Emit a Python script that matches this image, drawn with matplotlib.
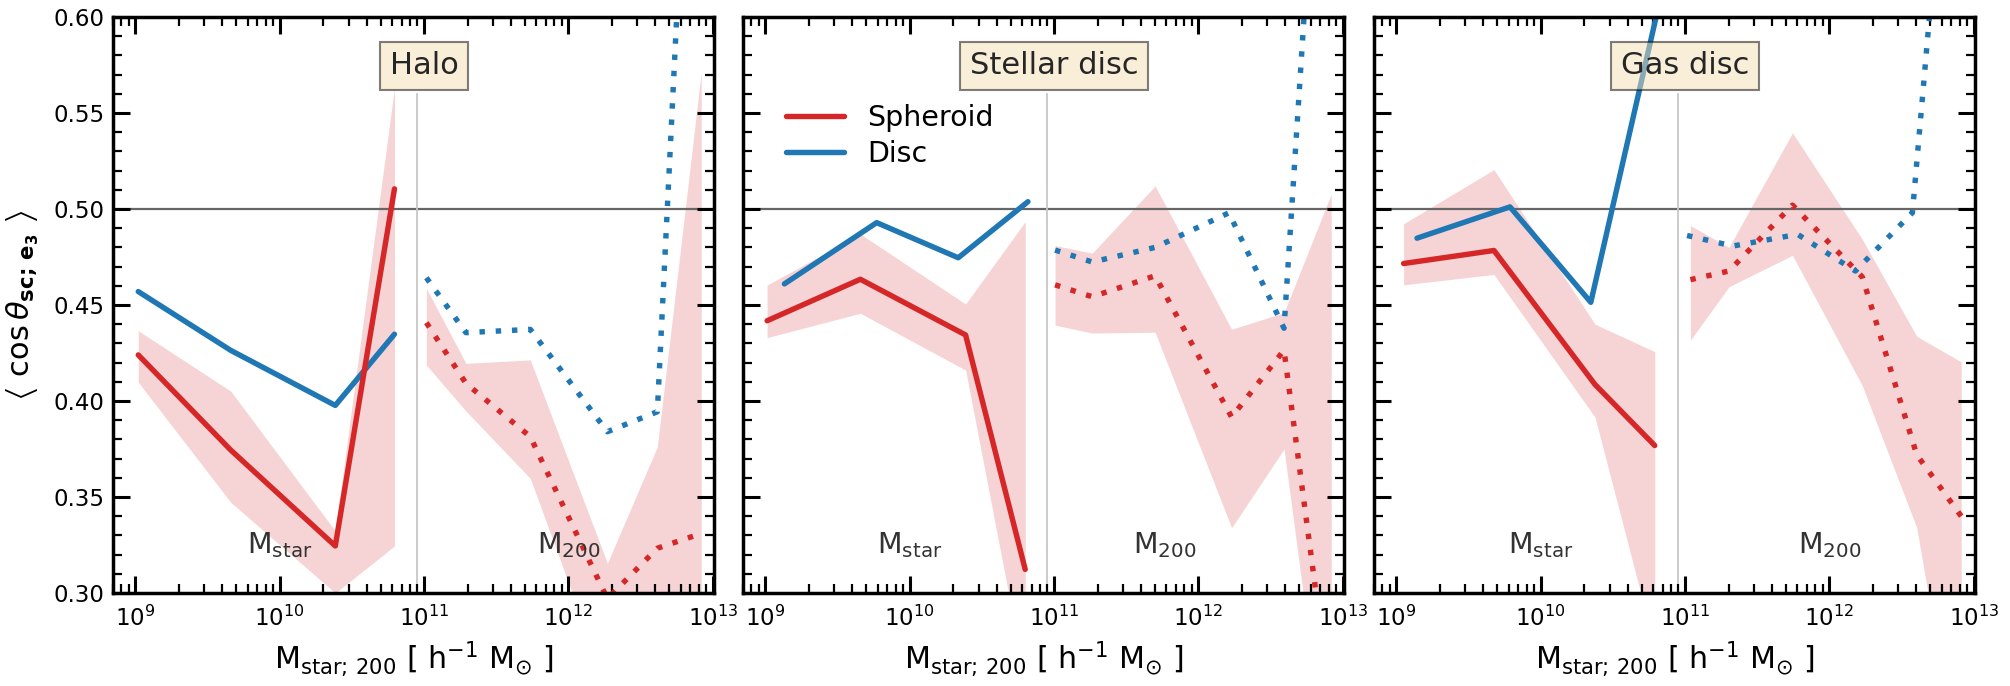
import numpy as np
import matplotlib
matplotlib.use("Agg")
import matplotlib.pyplot as plt
from matplotlib.ticker import MultipleLocator, LogLocator, NullFormatter

# ---------------- data (x given as log10 of mass) ----------------
panel_titles = ["Halo", "Stellar disc", "Gas disc"]

# Halo panel
halo_ms_sph_lx = [9.02, 9.66, 10.385, 10.795]
halo_ms_sph = [0.424, 0.3745, 0.3245, 0.5105]
halo_ms_disc_lx = [9.02, 9.66, 10.385, 10.795]
halo_ms_disc = [0.457, 0.4264, 0.3977, 0.4348]
halo_ms_lo = [0.4098, 0.3473, 0.300, 0.3245]
halo_ms_hi = [0.4366, 0.4052, 0.3323, 0.5632]
halo_m2_sph_lx = [11.016, 11.29, 11.736, 12.27, 12.616, 12.92]
halo_m2_sph = [0.4408, 0.4092, 0.3814, 0.297, 0.3233, 0.331]
halo_m2_disc_lx = [11.016, 11.29, 11.736, 12.27, 12.616, 12.92]
halo_m2_disc = [0.4642, 0.4356, 0.4373, 0.384, 0.3944, 0.86]
halo_m2_lo = [0.4187, 0.3948, 0.3597, 0.25, 0.24, 0.25]
halo_m2_hi = [0.4587, 0.4196, 0.4214, 0.3155, 0.3762, 0.571]

# Stellar disc panel
sdisc_ms_sph_lx = [9.012, 9.658, 10.387, 10.80]
sdisc_ms_sph = [0.4418, 0.4634, 0.4344, 0.3123]
sdisc_ms_disc_lx = [9.132, 9.771, 10.336, 10.819]
sdisc_ms_disc = [0.461, 0.4929, 0.4746, 0.5038]
sdisc_ms_lo = [0.433, 0.4457, 0.4161, 0.255]
sdisc_ms_hi = [0.4604, 0.487, 0.4505, 0.4934]
sdisc_m2_sph_lx = [11.007, 11.264, 11.70, 12.23, 12.593, 12.92]
sdisc_m2_sph = [0.4605, 0.4543, 0.4652, 0.3916, 0.4265, 0.24]
sdisc_m2_disc_lx = [11.007, 11.264, 11.70, 12.211, 12.593, 12.92]
sdisc_m2_disc = [0.4786, 0.4724, 0.48, 0.498, 0.4379, 0.82]
sdisc_m2_lo = [0.4395, 0.4354, 0.4358, 0.334, 0.375, 0.19]
sdisc_m2_hi = [0.481, 0.477, 0.512, 0.4374, 0.446, 0.5078]

# Gas disc panel
gdisc_ms_sph_lx = [9.05, 9.676, 10.376, 10.79]
gdisc_ms_sph = [0.4716, 0.4784, 0.4086, 0.3768]
gdisc_ms_disc_lx = [9.143, 9.787, 10.347, 10.83]
gdisc_ms_disc = [0.4848, 0.5011, 0.4514, 0.61]
gdisc_ms_lo = [0.4605, 0.4659, 0.3916, 0.272]
gdisc_ms_hi = [0.4923, 0.5205, 0.44, 0.4257]
gdisc_m2_sph_lx = [11.037, 11.304, 11.744, 12.228, 12.605, 12.913]
gdisc_m2_sph = [0.4632, 0.4677, 0.502, 0.4646, 0.372, 0.340]
gdisc_m2_disc_lx = [11.014, 11.33, 11.78, 12.18, 12.575, 12.92]
gdisc_m2_disc = [0.4862, 0.4807, 0.4868, 0.4677, 0.4981, 0.796]
gdisc_m2_lo = [0.4317, 0.4595, 0.4759, 0.408, 0.334, 0.20]
gdisc_m2_hi = [0.4914, 0.48, 0.5397, 0.4842, 0.4337, 0.4204]

panels = [
    dict(ms=(halo_ms_sph_lx, halo_ms_sph, halo_ms_disc_lx, halo_ms_disc, halo_ms_lo, halo_ms_hi),
         m2=(halo_m2_sph_lx, halo_m2_sph, halo_m2_disc_lx, halo_m2_disc, halo_m2_lo, halo_m2_hi),
         m200_pos=12.0),
    dict(ms=(sdisc_ms_sph_lx, sdisc_ms_sph, sdisc_ms_disc_lx, sdisc_ms_disc, sdisc_ms_lo, sdisc_ms_hi),
         m2=(sdisc_m2_sph_lx, sdisc_m2_sph, sdisc_m2_disc_lx, sdisc_m2_disc, sdisc_m2_lo, sdisc_m2_hi),
         m200_pos=11.77),
    dict(ms=(gdisc_ms_sph_lx, gdisc_ms_sph, gdisc_ms_disc_lx, gdisc_ms_disc, gdisc_ms_lo, gdisc_ms_hi),
         m2=(gdisc_m2_sph_lx, gdisc_m2_sph, gdisc_m2_disc_lx, gdisc_m2_disc, gdisc_m2_lo, gdisc_m2_hi),
         m200_pos=12.0),
]

RED = '#d62728'
BLUE = '#1f77b4'
LW = 3.9
DOT = (0, (1, 2.0))

fig = plt.figure(figsize=(20.1, 6.86), dpi=100)
lefts = [113, 743, 1374]
W, H = 2010.0, 686.0
xlabels = []
ylab = None
for i, (p, title) in enumerate(zip(panels, panel_titles)):
    ax = fig.add_axes([lefts[i] / W, (H - 593) / H, 601 / W, 576 / H])
    ax.set_xscale('log')
    for key, ls in (('ms', '-'), ('m2', DOT)):
        slx, sv, dlx, dv, lo, hi = p[key]
        sx = 10 ** np.array(slx)
        dx = 10 ** np.array(dlx)
        ax.fill_between(sx, lo, hi, color=RED, alpha=0.2, lw=0, zorder=1)
        ax.plot(sx, sv, color=RED, lw=LW, ls=ls, dash_capstyle='butt',
                solid_capstyle='round', zorder=2.2,
                label='Spheroid' if key == 'ms' else None)
        ax.plot(dx, dv, color=BLUE, lw=LW, ls=ls, dash_capstyle='butt',
                solid_capstyle='round', zorder=2.1,
                label='Disc' if key == 'ms' else None)
    ax.axhline(0.5, color='0.4', lw=1.6, zorder=1.5)
    ax.axvline(9e10, ymin=0, ymax=0.866, color='0.78', lw=1.3, zorder=1.5)
    ax.text(1e11, 0.5745, title, ha='center', va='center', fontsize=22,
            color='0.15', zorder=4,
            bbox=dict(boxstyle='square,pad=0.32', facecolor='wheat',
                      edgecolor='k', alpha=0.5, lw=1.5))
    ax.text(1e10, 0.325, r'$\mathrm{M_{star}}$', ha='center', va='center',
            fontsize=20.5, color='0.2')
    ax.text(10 ** p['m200_pos'], 0.325, r'$\mathrm{M_{200}}$', ha='center',
            va='center', fontsize=20.5, color='0.2')

    ax.set_xlim(10 ** 8.845, 1.02e13)
    ax.set_ylim(0.30, 0.60)
    ax.yaxis.set_major_locator(MultipleLocator(0.05))
    ax.yaxis.set_minor_locator(MultipleLocator(0.01))
    ax.xaxis.set_major_locator(LogLocator(base=10, numticks=20))
    ax.xaxis.set_minor_locator(LogLocator(base=10, subs=np.arange(2, 10), numticks=40))
    ax.xaxis.set_minor_formatter(NullFormatter())
    ax.tick_params(which='both', direction='in', top=True, right=True)
    ax.tick_params(which='major', length=12, width=2.2, labelsize=16.5)
    ax.tick_params(which='minor', length=6.5, width=1.6)
    ax.tick_params(axis='x', which='major', pad=9)
    ax.tick_params(axis='y', which='major', pad=6)
    for s in ax.spines.values():
        s.set_linewidth(2.5)
    if i == 0:
        ax.yaxis.set_major_formatter(plt.FormatStrFormatter('%.2f'))
        ylab = ax.set_ylabel(
            r'$\left\langle\ \cos\theta_{\mathbf{sc;\,e_3}}\ \right\rangle$',
            fontsize=22)
        ax.yaxis.set_label_coords(-0.1215, 0.5)
    else:
        ax.tick_params(axis='y', labelleft=False)
    xl = ax.set_xlabel(r'$\mathrm{M_{star;\,200}\ [\ h^{-1}\ M_{\odot}\ ]}$',
                       fontsize=22.5, va='baseline')
    ax.xaxis.set_label_coords(0.5, -0.1302)
    xlabels.append(xl)
    if i == 1:
        ax.legend(loc='upper left', bbox_to_anchor=(0.071, 0.849),
                  frameon=False, fontsize=20.5, handlelength=2.05,
                  handletextpad=0.82, labelspacing=0.29, borderpad=0,
                  borderaxespad=0)

# fit label sizes to the measured extents of the reference
fig.canvas.draw()
r = fig.canvas.get_renderer()
bb = ylab.get_window_extent(r)
ylab.set_fontsize(22 * 190.0 / bb.height)
bx = xlabels[0].get_window_extent(r)
for xl in xlabels:
    xl.set_fontsize(22.5 * 280.0 / bx.width)

fig.savefig('out.png', dpi=100)
